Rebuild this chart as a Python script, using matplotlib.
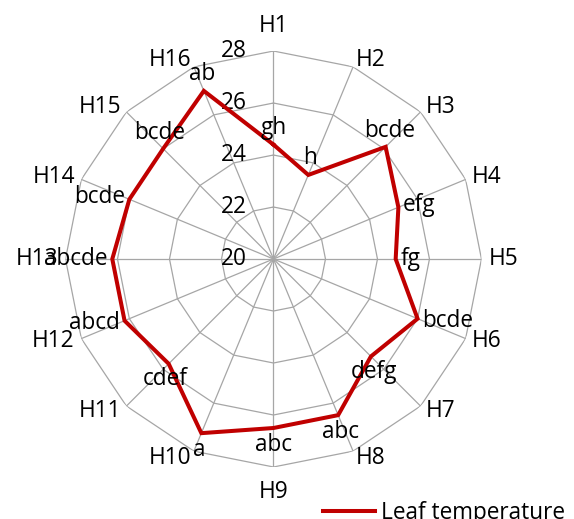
import numpy as np
import matplotlib
matplotlib.use("Agg")
import matplotlib.pyplot as plt
from matplotlib.lines import Line2D

plt.rcParams['font.family'] = ['Open Sans', 'DejaVu Sans']

# data
categories = ['H1', 'H2', 'H3', 'H4', 'H5', 'H6', 'H7', 'H8',
              'H9', 'H10', 'H11', 'H12', 'H13', 'H14', 'H15', 'H16']
leaf_temp = [24.4, 23.5, 26.1, 25.2, 24.7, 26.0, 25.3, 26.5,
             26.5, 27.25, 25.7, 26.2, 26.2, 26.0, 26.0, 27.0]
letters = ['gh', 'h', 'bcde', 'efg', 'fg', 'bcde', 'defg', 'abc',
           'abc', 'a', 'cdef', 'abcd', 'abcde', 'bcde', 'bcde', 'ab']
ring_values = [20, 22, 24, 26, 28]

line_col = '#c00000'
grid_col = '#a6a6a6'
fs = 16.3

fig = plt.figure(figsize=(5.74, 5.19), dpi=100)
ax = fig.add_axes([0.1141, 0.1002, 0.7247, 0.8015], projection='polar')
ax.set_theta_zero_location('N')
ax.set_theta_direction(-1)
ax.set_ylim(20, 28)
ax.grid(False)
ax.set_xticks([])
ax.set_yticks([])
ax.spines['polar'].set_visible(False)

n = len(categories)
angles = np.arange(n) * 2 * np.pi / n
closed = np.append(angles, angles[0])

# polygon grid
for v in ring_values[1:]:
    ax.plot(closed, [v] * (n + 1), color=grid_col, lw=0.9, zorder=1)
for a in angles:
    ax.plot([a, a], [20, 28], color=grid_col, lw=0.9, zorder=1)

# ring labels next to H1 spoke
for v in ring_values:
    ax.annotate(str(v), (0, v), xytext=(-27, 0), textcoords='offset pixels',
                ha='right', va='center', fontsize=fs, zorder=3)

# category labels
for a, lab in zip(angles, categories):
    s, c = np.sin(a), np.cos(a)
    ha = 'left' if s > 0.1 else ('right' if s < -0.1 else 'center')
    if c > 0.95:
        va = 'bottom'
    elif c < -0.95:
        va = 'top'
    else:
        va = 'center'
    d = 13 if abs(c) > 0.95 else 7
    ax.annotate(lab, (a, 28), xytext=(d * s, d * c), textcoords='offset pixels',
                ha=ha, va=va, fontsize=fs, annotation_clip=False)

# data line
vals = np.append(leaf_temp, leaf_temp[0])
ax.plot(closed, vals, color=line_col, lw=2.9, zorder=4, solid_joinstyle='miter')

# data labels
for a, v, t in zip(angles, leaf_temp, letters):
    s, c = np.sin(a), np.cos(a)
    if s > 0.75:
        ha, va = 'left', 'center'
    elif s < -0.75:
        ha, va = 'right', 'center'
    else:
        ha = 'center'
        va = 'bottom' if c > 0 else 'top'
    d = 5
    ax.annotate(t, (a, v), xytext=(d * s, d * c), textcoords='offset pixels',
                ha=ha, va=va, fontsize=fs, zorder=5)

handle = Line2D([], [], color=line_col, lw=2.9)
fig.legend([handle], ['Leaf temperature'], loc='center left',
           bbox_to_anchor=(0.5627, 0.012), frameon=False, fontsize=fs,
           handlelength=2.3, handletextpad=0.25, borderpad=0, borderaxespad=0)

fig.savefig('out.png', dpi=100)
